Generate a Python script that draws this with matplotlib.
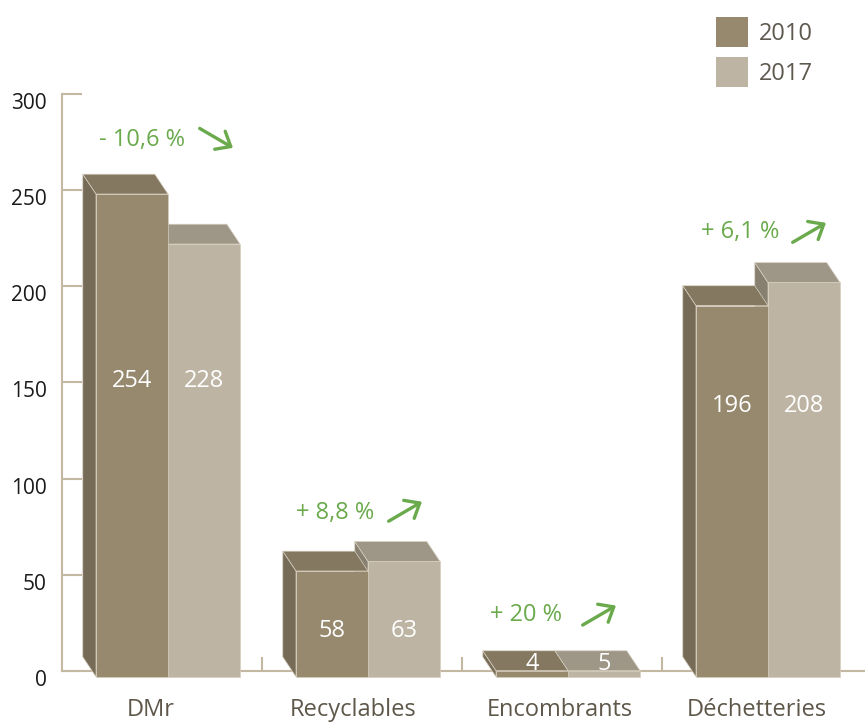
import matplotlib.pyplot as plt
from matplotlib.patches import Polygon, Patch
from matplotlib.transforms import ScaledTranslation, blended_transform_factory

plt.rcParams['font.family'] = ['Open Sans', 'DejaVu Sans']

categories = ['DMr', 'Recyclables', 'Encombrants', 'Déchetteries']
years = ['2010', '2017']
values_2010 = [254, 58, 4, 196]
values_2017 = [228, 63, 5, 208]
changes = ['- 10,6 %', '+ 8,8 %', '+ 20 %', '+ 6,1 %']
trend_up = [False, True, True, True]

# layout (data units)
value_label_y = [151, 21, 3.5, 138]
change_xy = [(0.40, 276), (1.365, 82), (2.32, 29), (3.39, 228)]
arrow_tip = [(0.855, 272), (1.80, 88), (2.77, 34), (3.82, 233)]

green = '#6aaa4c'
tan = '#c4b8a2'
col_2010 = {'front': '#96896e', 'top': '#847960', 'side': '#756b56'}
col_2017 = {'front': '#bdb4a3', 'top': '#9e9686', 'side': '#878071'}

W = 0.36        # front face width
DX = -0.066     # depth shift, x
DY = 10.3       # depth shift, y
BOT = -3


def box(ax, x0, v, cols):
    x1 = x0 + W
    t = max(v - 6, BOT + 3.2)
    kw = dict(closed=True, clip_on=False, zorder=3, edgecolor='#d6cebf', lw=0.5)
    ax.add_patch(Polygon([(x0, BOT), (x0, t), (x0 + DX, t + DY), (x0 + DX, BOT + DY)],
                         facecolor=cols['side'], **kw))
    ax.add_patch(Polygon([(x0, t), (x1, t), (x1 + DX, t + DY), (x0 + DX, t + DY)],
                         facecolor=cols['top'], **kw))
    ax.add_patch(Polygon([(x0, BOT), (x1, BOT), (x1, t), (x0, t)],
                         facecolor=cols['front'], **kw))


fig = plt.figure(figsize=(8.65, 7.25), dpi=100)
ax = fig.add_axes([62 / 865, 54 / 725, 803 / 865, 577 / 725])
ax.set_xlim(0, 803 / 200)
ax.set_ylim(0, 300)

for i in range(len(categories)):
    c = i + 0.53
    box(ax, c, values_2017[i], col_2017)
    box(ax, c - W, values_2010[i], col_2010)
    ax.text(c - W / 2, value_label_y[i], str(values_2010[i]), color='white',
            fontsize=17, ha='center', va='center', zorder=5)
    ax.text(c + W / 2, value_label_y[i], str(values_2017[i]), color='white',
            fontsize=17, ha='center', va='center', zorder=5)

    tx, ty = change_xy[i]
    ax.text(tx, ty, changes[i], color=green, fontsize=17, ha='center', va='center')
    ax_, ay_ = arrow_tip[i]
    ax.annotate('', xy=(ax_, ay_), xytext=(-24, -14 if trend_up[i] else 14),
                textcoords='offset points',
                arrowprops=dict(arrowstyle='->,head_length=0.9,head_width=0.75',
                                color=green, lw=2.4, shrinkA=0, shrinkB=0,
                                capstyle='round', joinstyle='round'))

# category labels
trans = blended_transform_factory(ax.transData, ax.transAxes)
label_x = [0.445, 1.455, 2.49, 3.475]
for x, name in zip(label_x, categories):
    ax.text(x, -0.0676, name, transform=trans, ha='center', va='center',
            fontsize=17, color='#5e574a')

# axes styling
for s in ['top', 'right']:
    ax.spines[s].set_visible(False)
for s in ['left', 'bottom']:
    ax.spines[s].set_color(tan)
    ax.spines[s].set_linewidth(1.5)

ax.set_yticks(range(0, 301, 50))
ax.tick_params(axis='y', direction='in', length=14.5, width=1.5, color=tan,
               labelsize=15, labelcolor='#1a1a1a', pad=11)
for lab in ax.get_yticklabels():
    lab.set_transform(lab.get_transform() + ScaledTranslation(0, -7 / 100, fig.dpi_scale_trans))
ax.set_xticks([1, 2, 3])
ax.set_xticklabels([])
ax.tick_params(axis='x', direction='in', length=10, width=1.5, color=tan)

handles = [Patch(facecolor=col_2010['front']), Patch(facecolor=col_2017['front'])]
fig.legend(handles, years, loc='upper left', bbox_to_anchor=(716 / 865, 1 - 17 / 725),
           frameon=False, fontsize=17, handlelength=1.35, handleheight=1.55,
           handletextpad=0.45, labelspacing=0.45, borderpad=0, borderaxespad=0,
           labelcolor='#5e594f')

fig.savefig('out.png', dpi=100)
